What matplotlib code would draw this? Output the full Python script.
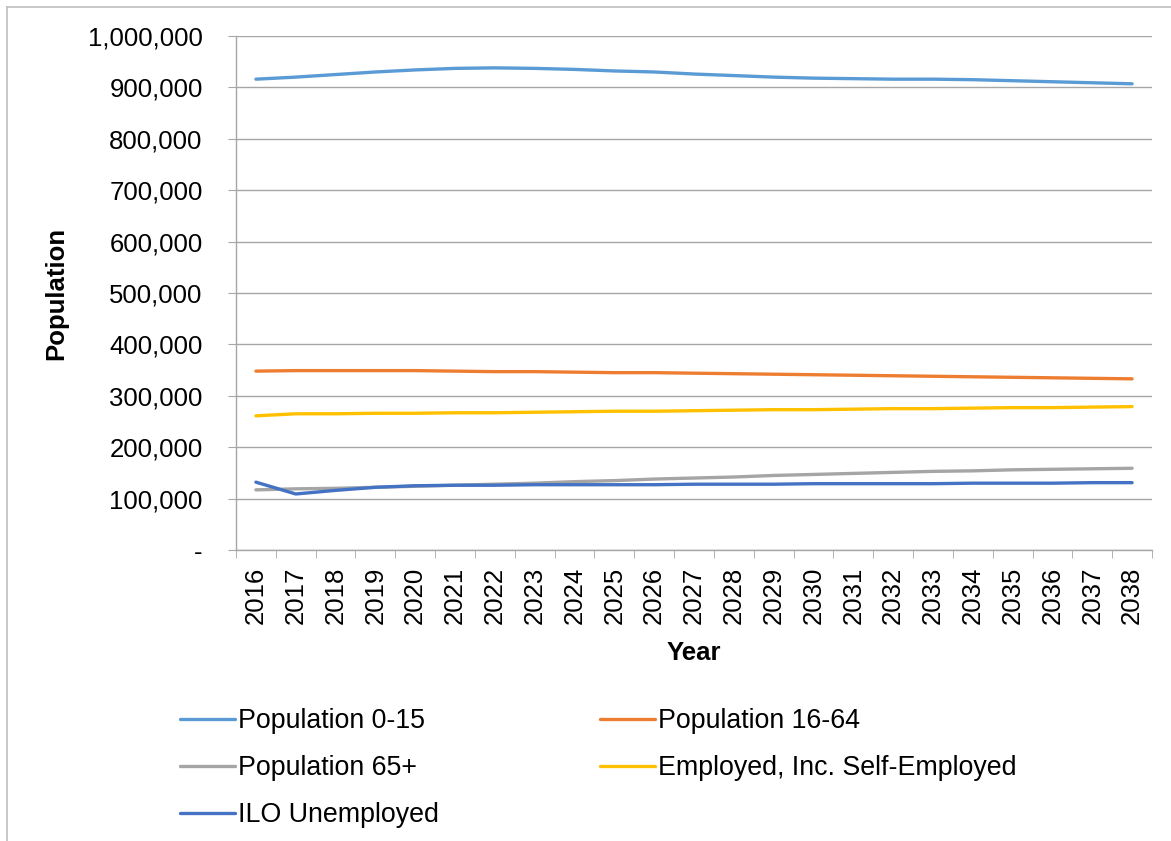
import matplotlib
matplotlib.use("Agg")
import matplotlib.pyplot as plt
from matplotlib.lines import Line2D
from matplotlib.ticker import FuncFormatter, FixedLocator

years = list(range(2016, 2039))
pop_0_15 = [916, 920, 925, 930, 934, 937, 938, 937, 935, 932, 930, 926, 923, 920, 918, 917, 916, 916, 915, 913, 911, 909, 907]
pop_16_64 = [348, 349, 349, 349, 349, 348, 347, 347, 346, 345, 345, 344, 343, 342, 341, 340, 339, 338, 337, 336, 335, 334, 333]
pop_65 = [117, 119, 120, 122, 124, 126, 128, 130, 133, 135, 138, 140, 142, 145, 147, 149, 151, 153, 154, 156, 157, 158, 159]
employed = [261, 265, 265, 266, 266, 267, 267, 268, 269, 270, 270, 271, 272, 273, 273, 274, 275, 275, 276, 277, 277, 278, 279]
ilo_unemp = [132, 109, 116, 122, 125, 126, 126, 127, 127, 127, 127, 128, 128, 128, 129, 129, 129, 129, 130, 130, 130, 131, 131]

series = [
    ("Population 0-15", pop_0_15, "#5B9BD5"),
    ("Population 16-64", pop_16_64, "#ED7D31"),
    ("Population 65+", pop_65, "#A5A5A5"),
    ("Employed, Inc. Self-Employed", employed, "#FFC000"),
    ("ILO Unemployed", ilo_unemp, "#4472C4"),
]

FS = 18.5
LFS = 19.3
plt.rcParams['font.family'] = ['Liberation Sans', 'DejaVu Sans']
W, H = 1171, 841
fig = plt.figure(figsize=(W / 100, H / 100), dpi=100)
ax = fig.add_axes([236 / W, 1 - 550 / H, (1152 - 236) / W, (550 - 36) / H])

x = list(range(len(years)))
handles = {}
for name, vals, col in series:
    (ln,) = ax.plot(x, [v * 1000 for v in vals], color=col, lw=2.4, label=name,
                    solid_capstyle='round', zorder=3)
    handles[name] = ln

ax.set_xlim(-0.5, len(years) - 0.5)
ax.set_ylim(0, 1_000_000)
ax.set_yticks(range(0, 1_000_001, 100_000))
ax.yaxis.set_major_formatter(FuncFormatter(lambda v, p: "-" if v == 0 else f"{int(v):,}"))
ax.grid(axis='y', color='#A6A6A6', lw=1.0, zorder=0)
ax.set_axisbelow(True)

ax.set_xticks(x)
ax.set_xticklabels([str(y) for y in years], rotation=90)
ax.xaxis.set_minor_locator(FixedLocator([i - 0.5 for i in range(len(years) + 1)]))
ax.tick_params(axis='x', which='major', length=0, pad=12, labelsize=FS)
ax.tick_params(axis='x', which='minor', length=6, color='#A6A6A6')
ax.tick_params(axis='y', length=6, color='#A6A6A6', labelsize=FS, pad=18)

for s in ['top', 'right']:
    ax.spines[s].set_visible(False)
for s in ['left', 'bottom']:
    ax.spines[s].set_color('#A6A6A6')
    ax.spines[s].set_linewidth(1.0)

ax.set_ylabel("Population", fontsize=FS, fontweight='bold', labelpad=14)
ax.set_xlabel("Year", fontsize=FS, fontweight='bold', labelpad=12)

order = ["Population 0-15", "Population 65+", "ILO Unemployed",
         "Population 16-64", "Employed, Inc. Self-Employed"]
leg = fig.legend([handles[n] for n in order], order, ncol=2, loc='upper left',
                 bbox_to_anchor=(156 / W, 1 - 684 / H), frameon=False, fontsize=LFS,
                 handlelength=2.05, handletextpad=0.11, columnspacing=6.0,
                 labelspacing=0.78)

# outer chart border (left and top visible)
fig.add_artist(Line2D([7 / W, 7 / W], [0, 1 - 7 / H], color='#BFBFBF', lw=1.2))
fig.add_artist(Line2D([7 / W, 1], [1 - 7 / H, 1 - 7 / H], color='#BFBFBF', lw=1.2))

fig.savefig("out.png", dpi=100)
